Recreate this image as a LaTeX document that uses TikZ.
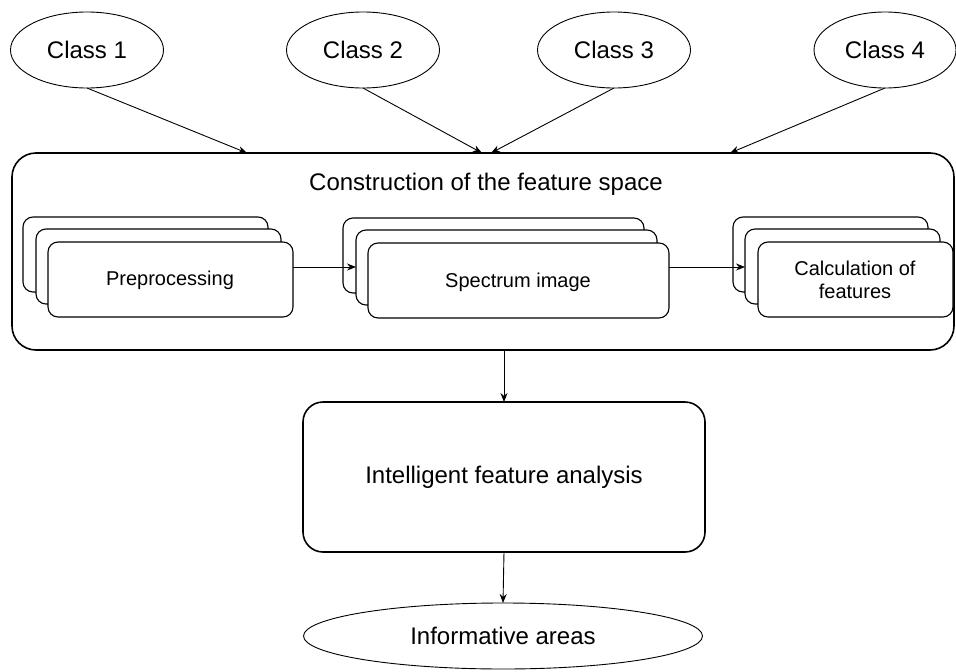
\documentclass[tikz,border=0pt]{standalone}
\usepackage{fontspec}
\setmainfont{Liberation Sans}
\usetikzlibrary{arrows.meta,shapes.geometric}
\begin{document}
\begin{tikzpicture}[x=1pt,y=-1pt,
  every node/.style={inner sep=0pt,outer sep=0pt},
  classnode/.style={ellipse,draw,line width=0.9pt,minimum width=153pt,minimum height=76pt,font=\fontsize{24}{28}\selectfont},
  layerbox/.style={draw,fill=white,rounded corners=10pt,line width=1.1pt,anchor=north west},
  bigbox/.style={draw,rounded corners=24pt,line width=1.6pt,anchor=north west},
  smalltext/.style={font=\fontsize{20}{23}\selectfont,align=center},
  bigtext/.style={font=\fontsize{24}{28}\selectfont,align=center},
  link/.style={line width=0.9pt,-{Stealth[length=9pt,width=7pt]}}]
\useasboundingbox (0,0) rectangle (956,672);

% input classes
\node[classnode] (c1) at (87,50) {Class 1};
\node[classnode] (c2) at (363,50) {Class 2};
\node[classnode] (c3) at (614,50) {Class 3};
\node[classnode,minimum width=142pt] (c4) at (885,50) {Class 4};

% feature space container
\node[bigbox,minimum width=942pt,minimum height=197pt] (outer) at (12,153) {};
\node[bigtext] (title) at (486,184) {Construction of the feature space};

% preprocessing stack
\node[layerbox,minimum width=245pt,minimum height=75pt] (pb) at (23,217) {};
\node[layerbox,minimum width=245pt,minimum height=75pt] (pm) at (36,229) {};
\node[layerbox,minimum width=245pt,minimum height=75pt] (pf) at (48,242) {};
\node[smalltext] (pt) at (170,280) {Preprocessing};

% spectrum stack
\node[layerbox,minimum width=301pt,minimum height=75pt] (sb) at (343,218) {};
\node[layerbox,minimum width=301pt,minimum height=75pt] (sm) at (356,230) {};
\node[layerbox,minimum width=301pt,minimum height=75pt] (sf) at (368,243) {};
\node[smalltext] (st) at (518,282) {Spectrum image};

% features stack
\node[layerbox,minimum width=195pt,minimum height=75pt] (fb) at (733,217) {};
\node[layerbox,minimum width=195pt,minimum height=75pt] (fm) at (745,229) {};
\node[layerbox,minimum width=195pt,minimum height=75pt] (ff) at (758,242) {};
\node[smalltext] (ft) at (855,280) {Calculation of\\features};

% analysis and result
\node[draw,rounded corners=20pt,line width=1.6pt,minimum width=402pt,minimum height=150pt] (ana) at (504,477) {};
\node[bigtext] (anat) at (504,477) {Intelligent feature analysis};
\node[ellipse,draw,line width=0.9pt,minimum width=399pt,minimum height=66pt,bigtext] (res) at (503,636) {Informative areas};

% entry points on the container's top edge
\coordinate (in1) at (247,153);
\coordinate (in2) at (482,153);
\coordinate (in3) at (491,153);
\coordinate (in4) at (730,153);

\draw[link] (c1.south) -- (in1);
\draw[link] (c2.south) -- (in2);
\draw[link] (c3.south) -- (in3);
\draw[link] (c4.south) -- (in4);

\draw[link] (pf.east |- 0,267) -- (sm.west |- 0,267);
\draw[link] (sf.east |- 0,267) -- (fm.west |- 0,267);

\draw[link] (outer.south -| ana.north) -- (ana.north);
\draw[link] (ana.south) -- (res.north);
\end{tikzpicture}
\end{document}
